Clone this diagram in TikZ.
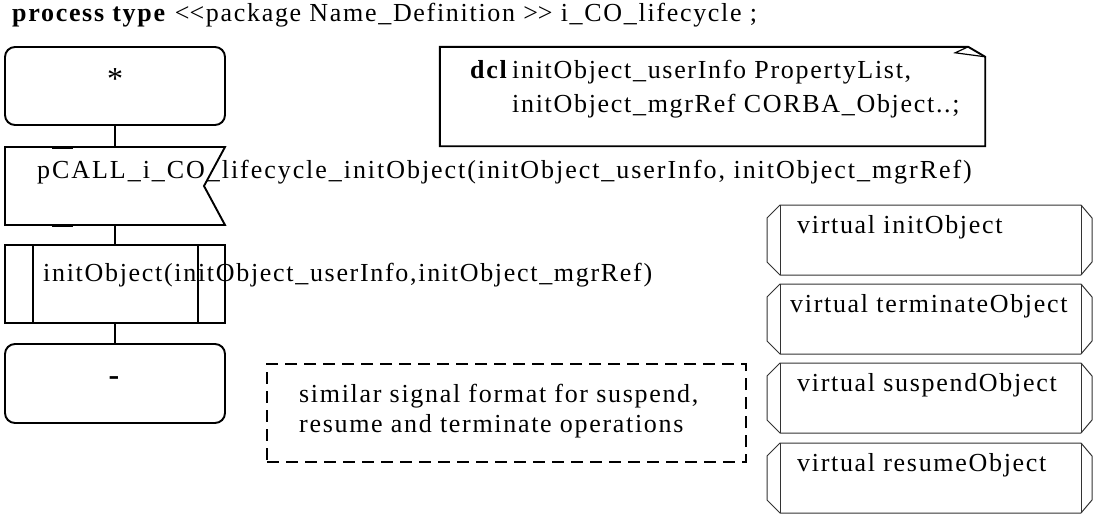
\documentclass[tikz,border=0pt]{standalone}
\usepackage{fontspec}
\setmainfont{Liberation Serif}[LetterSpace=6.5]
\usetikzlibrary{calc}
\tikzset{
  sdl/.style={draw=black, line width=1.9pt},
  frame/.style={shape=rectangle, minimum width=220pt, minimum height=78pt, inner sep=0pt, outer sep=0pt},
  lbl/.style={anchor=base west, inner sep=0pt, font=\fontsize{26}{32}\selectfont},
  sym/.style={anchor=center, inner sep=0pt, font=\fontsize{32}{36}\selectfont},
  conn/.style={draw=black, line width=1.9pt},
  vproc/.style={line width=1pt, draw=black!80},
  vframe/.style={shape=rectangle, minimum width=301pt, minimum height=70pt, inner sep=0pt, outer sep=0pt},
  notebox/.style={draw=black, line width=2.6pt, dash pattern=on 12pt off 7pt, shape=rectangle, inner sep=0pt, outer sep=0pt},
}
\begin{document}
\begin{tikzpicture}[x=1pt,y=-1pt]
\useasboundingbox[fill=white] (0,0) rectangle (1096,514);
\node[lbl] (title) at (12,21) {\textbf{process type} <\kern0pt<package Name\_Definition >\kern0pt> i\_CO\_lifecycle ;};

% start
\node[frame, sdl, rounded corners=10pt] (start) at (115,86) {};
\node[sym] (startsym) at (115,79) {*};

% input
\node[frame] (input) at (115,186) {};
\draw[sdl] (input.north west) -- (input.north east) -- ($(input.east)+(-21,0)$) -- (input.south east) -- (input.south west) -- cycle;
\draw[line width=3pt] ($(input.north west)+(47,0)$) -- ++(21,0);
\draw[line width=3pt] ($(input.south west)+(47,0)$) -- ++(21,0);
\node[lbl, font=\fontsize{26}{32}\selectfont\addfontfeatures{LetterSpace=7.5}] (inputtext) at (37,178) {pCALL\_i\_CO\_lifecycle\_initObject(initObject\_userInfo, initObject\_mgrRef)};

% procedure call
\node[frame, sdl] (proc) at (115,284) {};
\draw[sdl] ($(proc.north west)+(28,0)$) -- ($(proc.south west)+(28,0)$);
\draw[sdl] ($(proc.north east)+(-27,0)$) -- ($(proc.south east)+(-27,0)$);
\node[lbl] (proctext) at (43,281) {initObject(initObject\_userInfo,initObject\_mgrRef)};

% stop
\node[frame, sdl, rounded corners=10pt, minimum height=79pt] (stop) at (115,383.5) {};
\node[sym] (stopsym) at (115,381) {\textbf{-}};

\draw[conn] (start.south) -- (input.north);
\draw[conn] (input.south) -- (proc.north);
\draw[conn] (proc.south) -- (stop.north);

% dcl text symbol
\node[shape=rectangle, minimum width=545pt, minimum height=99pt, inner sep=0pt] (dcl) at (712.5,96.5) {};
\draw[sdl] (dcl.north west) -- ($(dcl.north east)+(-17,0)$) -- ($(dcl.north east)+(0,10)$) -- (dcl.south east) -- (dcl.south west) -- cycle;
\draw[line width=1.2pt] ($(dcl.north east)+(-17,0)$) -- ($(dcl.north east)+(-30,6)$) -- ($(dcl.north east)+(0,10)$);
\node[lbl] (dclkw) at (470,78) {\textbf{dcl}};
\node[lbl] (dcl1) at (512,78) {initObject\_userInfo PropertyList,};
\node[lbl] (dcl2) at (512,112) {initObject\_mgrRef CORBA\_Object..;};

% note
\node[notebox, minimum width=479pt, minimum height=98pt] (note) at (506.5,413) {};
\node[lbl] (note1) at (299,402) {similar signal format for suspend,};
\node[lbl] (note2) at (299,432) {resume and terminate operations};

% virtual procedures
\foreach \n/\t/\x/\s in {v1/205/797/virtual initObject, v2/284/790/virtual terminateObject, v3/363/797/virtual suspendObject, v4/443/797/virtual resumeObject}{
  \node[vframe] (\n) at (930.5,\t+35) {};
  \draw[vproc] (\n.north west) -- (\n.north east) -- ++(11,13) -- ($(\n.south east)+(11,-13)$) -- (\n.south east) -- (\n.south west) -- ++(-13,-13) -- ($(\n.north west)+(-13,13)$) -- cycle;
  \draw[vproc] (\n.north west) -- (\n.south west);
  \draw[vproc] (\n.north east) -- (\n.south east);
  \node[lbl] (\n text) at (\x,\t+28) {\s};
}
\end{tikzpicture}
\end{document}
